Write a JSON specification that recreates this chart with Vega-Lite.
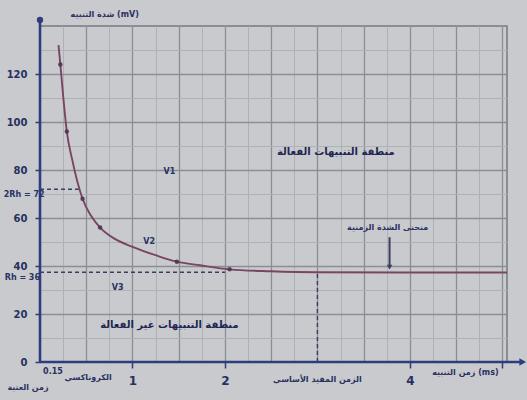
{
  "$schema": "https://vega.github.io/schema/vega-lite/v6.json",
  "width": 467,
  "height": 336,
  "autosize": "none",
  "padding": {"left": 40, "top": 26, "right": 20, "bottom": 38},
  "background": "#c8cacd",
  "config": {
    "font": "DejaVu Sans",
    "view": {"stroke": "#767b81", "strokeWidth": 1.5}
  },
  "datasets": {
    "curve": [
      {"t": 0.2, "v": 132}, {"t": 0.22, "v": 124}, {"t": 0.25, "v": 111}, {"t": 0.29, "v": 96},
      {"t": 0.35, "v": 84}, {"t": 0.46, "v": 68}, {"t": 0.55, "v": 61}, {"t": 0.65, "v": 56},
      {"t": 0.8, "v": 51.5}, {"t": 1.0, "v": 48}, {"t": 1.25, "v": 44.5}, {"t": 1.48, "v": 41.8},
      {"t": 1.73, "v": 40.3}, {"t": 2.05, "v": 38.6}, {"t": 2.5, "v": 37.8}, {"t": 3.0, "v": 37.4},
      {"t": 4.0, "v": 37.3}, {"t": 5.05, "v": 37.3}
    ],
    "dots": [
      {"t": 0.22, "v": 124}, {"t": 0.29, "v": 96}, {"t": 0.46, "v": 68}, {"t": 0.65, "v": 56},
      {"t": 1.48, "v": 41.8}, {"t": 2.05, "v": 38.6}
    ],
    "guides": [
      {"x": 3, "x2": 3, "y": 0, "y2": 37.4},
      {"x": 0, "x2": 2.0, "y": 37.4, "y2": 37.4},
      {"x": 0, "x2": 0.42, "y": 72, "y2": 72}
    ],
    "axes": [
      {"x": 0, "x2": 0, "y": 0, "y2": 142.5},
      {"x": 0, "x2": 5.22, "y": 0, "y2": 0}
    ],
    "pointer": [{"x": 3.78, "x2": 3.78, "y": 52, "y2": 39.5}],
    "pointerHead": [{"x": 3.78, "y": 39.5}],
    "axisHead": [{"x": 5.22, "y": 0}],
    "axisTop": [{"x": 0, "y": 142.5}],
    "bigLabels": [
      {"x": 3.2, "y": 87.5, "text": "منطقة التنبيهات الفعالة"},
      {"x": 1.4, "y": 15.4, "text": "منطقة التنبيهات غير الفعالة"}
    ],
    "smallLabels": [
      {"x": 3.76, "y": 56, "text": "منحنى الشدة الزمنية"},
      {"x": 0.7, "y": 144.6, "text": "شدة التنبيه (mV)"},
      {"x": 4.6, "y": -4.6, "text": "زمن التنبيه (ms)"},
      {"x": 3.0, "y": -7.5, "text": "الزمن المفيد الأساسي"},
      {"x": 0.52, "y": -6.7, "text": "الكروناكسي"},
      {"x": 0.14, "y": -4.2, "text": "0.15"},
      {"x": -0.13, "y": -10.8, "text": "زمن العتبة"},
      {"x": 1.4, "y": 79, "text": "V1"},
      {"x": 1.18, "y": 50, "text": "V2"},
      {"x": 0.84, "y": 31, "text": "V3"}
    ],
    "leftLabels": [
      {"x": 0.05, "y": 69.6, "text": "2Rh = 72"},
      {"x": 0.0, "y": 35, "text": "Rh = 36"}
    ]
  },
  "resolve": {"axis": {"x": "independent", "y": "independent"}},
  "layer": [
    {
      "data": {"name": "curve"},
      "mark": {"type": "point", "opacity": 0},
      "encoding": {
        "x": {"field": "t", "type": "quantitative", "scale": {"domain": [0, 5.05], "nice": false, "zero": false},
          "axis": {"orient": "bottom", "values": [0.25,0.5,0.75,1,1.25,1.5,1.75,2,2.25,2.5,2.75,3,3.25,3.5,3.75,4,4.25,4.5,4.75,5], "grid": true, "gridColor": "#aeb1b5", "gridWidth": 1, "labels": false, "ticks": false, "domain": false, "title": null}},
        "y": {"field": "v", "type": "quantitative", "scale": {"domain": [0, 140], "nice": false, "zero": false},
          "axis": {"orient": "left", "values": [10,30,50,70,90,110,130], "grid": true, "gridColor": "#aeb1b5", "gridWidth": 1, "labels": false, "ticks": false, "domain": false, "title": null}}
      }
    },
    {
      "data": {"name": "curve"},
      "mark": {"type": "point", "opacity": 0},
      "encoding": {
        "x": {"field": "t", "type": "quantitative", "scale": {"domain": [0, 5.05], "nice": false, "zero": false},
          "axis": {"orient": "bottom", "values": [0.5,1,1.5,2,2.5,3,3.5,4,4.5,5], "grid": true, "gridColor": "#8a8e95", "gridWidth": 1.3, "labels": false, "ticks": false, "domain": false, "title": null}},
        "y": {"field": "v", "type": "quantitative", "scale": {"domain": [0, 140], "nice": false, "zero": false},
          "axis": {"orient": "left", "values": [20,40,60,80,100,120], "grid": true, "gridColor": "#8a8e95", "gridWidth": 1.3, "labels": false, "ticks": false, "domain": false, "title": null}}
      }
    },
    {
      "data": {"name": "guides"},
      "mark": {"type": "rule", "color": "#3a3f5e", "strokeWidth": 1.4, "strokeDash": [4, 3]},
      "encoding": {
        "x": {"field": "x", "type": "quantitative", "scale": {"domain": [0, 5.05], "nice": false, "zero": false}, "axis": null},
        "x2": {"field": "x2"},
        "y": {"field": "y", "type": "quantitative", "scale": {"domain": [0, 140], "nice": false, "zero": false}, "axis": null},
        "y2": {"field": "y2"}
      }
    },
    {
      "data": {"name": "curve"},
      "mark": {"type": "line", "color": "#7a4562", "strokeWidth": 1.9, "interpolate": "monotone"},
      "encoding": {
        "x": {"field": "t", "type": "quantitative", "scale": {"domain": [0, 5.05], "nice": false, "zero": false},
          "axis": {"orient": "bottom", "values": [1, 2, 4, 5], "labelExpr": "datum.value == 5 ? '' : datum.label", "grid": false, "domain": false, "tickColor": "#2f3d7c", "tickWidth": 1.5, "tickSize": 6, "labelPadding": 7, "labelColor": "#27305f", "labelFontSize": 12, "labelFontWeight": "bold", "title": null}},
        "y": {"field": "v", "type": "quantitative", "scale": {"domain": [0, 140], "nice": false, "zero": false},
          "axis": {"orient": "left", "values": [0, 20, 40, 60, 80, 100, 120], "grid": false, "domain": false, "tickColor": "#2f3d7c", "tickWidth": 1.5, "tickSize": 5, "labelPadding": 8, "labelColor": "#27305f", "labelFontSize": 10, "labelFontWeight": "bold", "title": null}}
      }
    },
    {
      "data": {"name": "dots"},
      "mark": {"type": "circle", "color": "#4a3050", "size": 20, "opacity": 0.85},
      "encoding": {
        "x": {"field": "t", "type": "quantitative", "scale": {"domain": [0, 5.05], "nice": false, "zero": false}, "axis": null},
        "y": {"field": "v", "type": "quantitative", "scale": {"domain": [0, 140], "nice": false, "zero": false}, "axis": null}
      }
    },
    {
      "data": {"name": "axes"},
      "mark": {"type": "rule", "color": "#2f3d7c", "strokeWidth": 2.6},
      "encoding": {
        "x": {"field": "x", "type": "quantitative", "scale": {"domain": [0, 5.05], "nice": false, "zero": false}, "axis": null},
        "x2": {"field": "x2"},
        "y": {"field": "y", "type": "quantitative", "scale": {"domain": [0, 140], "nice": false, "zero": false}, "axis": null},
        "y2": {"field": "y2"}
      }
    },
    {
      "data": {"name": "axisHead"},
      "mark": {"type": "point", "shape": "triangle-right", "filled": true, "color": "#2f3d7c", "size": 60, "opacity": 1},
      "encoding": {
        "x": {"field": "x", "type": "quantitative", "scale": {"domain": [0, 5.05], "nice": false, "zero": false}, "axis": null},
        "y": {"field": "y", "type": "quantitative", "scale": {"domain": [0, 140], "nice": false, "zero": false}, "axis": null}
      }
    },
    {
      "data": {"name": "axisTop"},
      "mark": {"type": "circle", "color": "#2f3d7c", "size": 40, "opacity": 1},
      "encoding": {
        "x": {"field": "x", "type": "quantitative", "scale": {"domain": [0, 5.05], "nice": false, "zero": false}, "axis": null},
        "y": {"field": "y", "type": "quantitative", "scale": {"domain": [0, 140], "nice": false, "zero": false}, "axis": null}
      }
    },
    {
      "data": {"name": "pointer"},
      "mark": {"type": "rule", "color": "#3a3f5e", "strokeWidth": 2},
      "encoding": {
        "x": {"field": "x", "type": "quantitative", "scale": {"domain": [0, 5.05], "nice": false, "zero": false}, "axis": null},
        "y": {"field": "y", "type": "quantitative", "scale": {"domain": [0, 140], "nice": false, "zero": false}, "axis": null},
        "y2": {"field": "y2"}
      }
    },
    {
      "data": {"name": "pointerHead"},
      "mark": {"type": "point", "shape": "triangle-down", "filled": true, "color": "#3a3f5e", "size": 30, "opacity": 1},
      "encoding": {
        "x": {"field": "x", "type": "quantitative", "scale": {"domain": [0, 5.05], "nice": false, "zero": false}, "axis": null},
        "y": {"field": "y", "type": "quantitative", "scale": {"domain": [0, 140], "nice": false, "zero": false}, "axis": null}
      }
    },
    {
      "data": {"name": "bigLabels"},
      "mark": {"type": "text", "color": "#1f2552", "fontSize": 10, "fontWeight": "bold"},
      "encoding": {
        "x": {"field": "x", "type": "quantitative", "scale": {"domain": [0, 5.05], "nice": false, "zero": false}, "axis": null},
        "y": {"field": "y", "type": "quantitative", "scale": {"domain": [0, 140], "nice": false, "zero": false}, "axis": null},
        "text": {"field": "text"}
      }
    },
    {
      "data": {"name": "smallLabels"},
      "mark": {"type": "text", "color": "#2a3060", "fontSize": 8, "fontWeight": "bold"},
      "encoding": {
        "x": {"field": "x", "type": "quantitative", "scale": {"domain": [0, 5.05], "nice": false, "zero": false}, "axis": null},
        "y": {"field": "y", "type": "quantitative", "scale": {"domain": [0, 140], "nice": false, "zero": false}, "axis": null},
        "text": {"field": "text"}
      }
    },
    {
      "data": {"name": "leftLabels"},
      "mark": {"type": "text", "color": "#2a3466", "fontSize": 8, "fontWeight": "bold", "align": "right"},
      "encoding": {
        "x": {"field": "x", "type": "quantitative", "scale": {"domain": [0, 5.05], "nice": false, "zero": false}, "axis": null},
        "y": {"field": "y", "type": "quantitative", "scale": {"domain": [0, 140], "nice": false, "zero": false}, "axis": null},
        "text": {"field": "text"}
      }
    }
  ]
}
